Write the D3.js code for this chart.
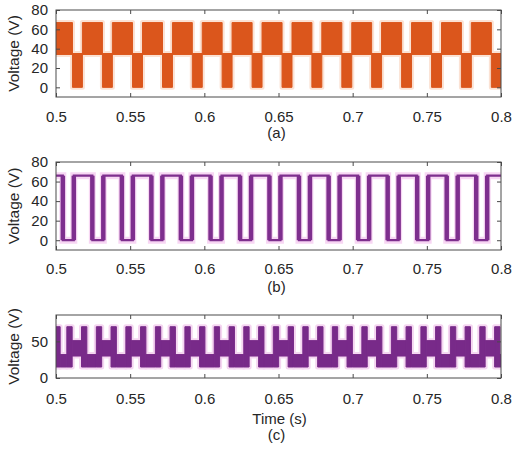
<!DOCTYPE html>
<html><head><meta charset="utf-8">
<script src="https://cdn.jsdelivr.net/npm/d3@7"></script>
<style>
body{margin:0;background:#fff;}
svg text{font-family:"Liberation Sans", Arial, sans-serif;fill:#262626;}
</style></head><body>
<svg id="chart" width="516" height="452"></svg>
<script>
// ---------- data ----------
const xTicks = [0.5, 0.55, 0.6, 0.65, 0.7, 0.75, 0.8];
const xTickLabels = ["0.5", "0.55", "0.6", "0.65", "0.7", "0.75", "0.8"];
const yTicksAB = [0, 20, 40, 60, 80];
const yTicksC = [0, 50];
const panelLabels = ["(a)", "(b)", "(c)"];
const yTitle = "Voltage (V)";
const xTitle = "Time (s)";

// (a) two-level PWM bands: low-band block start/end times
const aLowStart = [0.5111, 0.5313, 0.5516, 0.5718, 0.5919, 0.6120, 0.6322, 0.6524, 0.6725, 0.6927, 0.7128, 0.7330, 0.7532, 0.7733, 0.7935];
const aLowEnd   = [0.5178, 0.5380, 0.5583, 0.5785, 0.5986, 0.6187, 0.6389, 0.6591, 0.6792, 0.6994, 0.7195, 0.7397, 0.7599, 0.7800, 0.8000];
const aHighBand = [34, 67];
const aLowBand  = [0, 35];

// (b) square wave edges
const bFall = [0.5046, 0.5245, 0.5444, 0.5643, 0.5842, 0.6042, 0.6241, 0.6439, 0.6638, 0.6838, 0.7037, 0.7236, 0.7435, 0.7634, 0.7833];
const bRise = [0.5120, 0.5319, 0.5518, 0.5717, 0.5916, 0.6116, 0.6315, 0.6513, 0.6712, 0.6912, 0.7111, 0.7310, 0.7509, 0.7708, 0.7907];
const bHigh = 66;
const bLow = 0;

// (c) multilevel: pulse centre times, pulse band, band after each pulse
const cPulse = [0.5010, 0.5091, 0.5190, 0.5290, 0.5389, 0.5489, 0.5588, 0.5688, 0.5787, 0.5887, 0.5986, 0.6085, 0.6185, 0.6284, 0.6384, 0.6483, 0.6583, 0.6682, 0.6782, 0.6881, 0.6980, 0.7080, 0.7179, 0.7279, 0.7378, 0.7478, 0.7577, 0.7677, 0.7776, 0.7875, 0.7975];
const cPulseHalfWidth = 0.0018;
const cPulseBand = [15, 70];
const cGapTop    = [32, 51, 32, 51, 32, 51, 32, 51, 32, 51, 32, 51, 32, 51, 32, 51, 32, 51, 32, 51, 32, 51, 32, 51, 32, 51, 32, 51, 32, 51, 32];
const cGapBottom = [15, 30, 15, 30, 15, 30, 15, 30, 15, 30, 15, 30, 15, 30, 15, 30, 15, 30, 15, 30, 15, 30, 15, 30, 15, 30, 15, 30, 15, 30, 15];

// ---------- layout ----------
const svg = d3.select("#chart");
const X0 = 56, X1 = 501;
const panels = [
  {top: 10,  bottom: 97,  dom: [-10, 80], ticks: yTicksAB, lblPad: 14.5, tag: 134.5},
  {top: 162, bottom: 250, dom: [-10, 80], ticks: yTicksAB, lblPad: 13,   tag: 288},
  {top: 315, bottom: 378, dom: [0, 86],   ticks: yTicksC,  lblPad: 15,   tag: 436.5}
];
const x = d3.scaleLinear().domain([0.5, 0.8]).range([X0, X1]);
const colA = "#db561c", haloA = "#fbe2d4";
const colB = "#7e2f8e", haloB = "#f7d6f3";
const colC = "#782a89", haloC = "#f5d6f1";

panels.forEach((p, i) => {
  p.y = d3.scaleLinear().domain(p.dom).range([p.bottom, p.top]);
  svg.append("clipPath").attr("id", "clip" + i)
    .append("rect").attr("x", X0).attr("y", p.top).attr("width", X1 - X0).attr("height", p.bottom - p.top);
  p.g = svg.append("g").attr("clip-path", `url(#clip${i})`);
});

// ---------- (a) ----------
{
  const p = panels[0], y = p.y;
  const highBlocks = [];
  let prev = 0.5;
  aLowStart.forEach((s, i) => { highBlocks.push([prev, s]); prev = aLowEnd[i]; });
  if (prev < 0.8) highBlocks.push([prev, 0.8]);
  const lowBlocks = aLowStart.map((s, i) => [s, aLowEnd[i]]);
  const all = highBlocks.map(b => ({t0: b[0], t1: b[1], v: aHighBand}))
    .concat(lowBlocks.map(b => ({t0: b[0], t1: b[1], v: aLowBand})));
  [[haloA, 5], [colA, 1]].forEach(([c, w]) => {
    p.g.selectAll(null).data(all).enter().append("rect")
      .attr("x", d => x(d.t0)).attr("width", d => x(d.t1) - x(d.t0))
      .attr("y", d => y(d.v[1])).attr("height", d => y(d.v[0]) - y(d.v[1]))
      .attr("fill", c).attr("stroke", c).attr("stroke-width", w).attr("stroke-linejoin", "round");
  });
}

// ---------- (b) ----------
{
  const p = panels[1], y = p.y;
  const pts = [[0.5, bHigh]];
  bFall.forEach((f, i) => { pts.push([f, bLow]); pts.push([bRise[i], bHigh]); });
  pts.push([0.8, bHigh]);
  const line = d3.line().x(d => x(d[0])).y(d => y(d[1])).curve(d3.curveStepAfter);
  p.g.append("path").attr("d", line(pts)).attr("fill", "none").attr("stroke", haloB).attr("stroke-width", 7);
  p.g.append("path").attr("d", line(pts)).attr("fill", "none").attr("stroke", colB).attr("stroke-width", 2.2);
  const edges = bFall.concat(bRise);
  p.g.selectAll(null).data(edges).enter().append("line")
    .attr("x1", d => x(d)).attr("x2", d => x(d))
    .attr("y1", y(bLow)).attr("y2", y(bHigh))
    .attr("stroke", colB).attr("stroke-width", 4.5);
}

// ---------- (c) ----------
{
  const p = panels[2], y = p.y;
  const blocks = [];
  cPulse.forEach((c, i) => {
    blocks.push({t0: c - cPulseHalfWidth, t1: c + cPulseHalfWidth, v: cPulseBand});
    const g0 = c + cPulseHalfWidth;
    const g1 = i + 1 < cPulse.length ? cPulse[i + 1] - cPulseHalfWidth : 0.8;
    blocks.push({t0: g0, t1: g1, v: [cGapBottom[i], cGapTop[i]]});
  });
  [[haloC, 5], [colC, 1]].forEach(([c, w]) => {
    p.g.selectAll(null).data(blocks).enter().append("rect")
      .attr("x", d => x(d.t0)).attr("width", d => Math.max(0, x(d.t1) - x(d.t0)))
      .attr("y", d => y(d.v[1])).attr("height", d => y(d.v[0]) - y(d.v[1]))
      .attr("fill", c).attr("stroke", c).attr("stroke-width", w).attr("stroke-linejoin", "round");
  });
}

// ---------- axes ----------
panels.forEach((p, i) => {
  const y = p.y;
  const g = svg.append("g");
  const styleAxis = sel => {
    sel.select(".domain").remove();
    sel.selectAll("line").attr("stroke", "#4a4a4a");
    sel.selectAll("text").attr("font-size", 15).attr("fill", "#262626")
      .style("font-family", "'Liberation Sans', Arial, sans-serif");
  };
  g.append("g").attr("transform", `translate(0,${p.bottom})`)
    .call(d3.axisBottom(x).tickValues(xTicks).tickFormat((d, k) => xTickLabels[k]).tickSizeInner(-4).tickSizeOuter(0).tickPadding(p.lblPad))
    .call(styleAxis);
  g.append("g").attr("transform", `translate(0,${p.top})`)
    .call(d3.axisTop(x).tickValues(xTicks).tickFormat("").tickSizeInner(-4).tickSizeOuter(0))
    .call(styleAxis);
  g.append("g").attr("transform", `translate(${X0},0)`)
    .call(d3.axisLeft(y).tickValues(p.ticks).tickFormat(d3.format("d")).tickSizeInner(-4).tickSizeOuter(0).tickPadding(8))
    .call(styleAxis);
  g.append("g").attr("transform", `translate(${X1},0)`)
    .call(d3.axisRight(y).tickValues(p.ticks).tickFormat("").tickSizeInner(-4).tickSizeOuter(0))
    .call(styleAxis);
  svg.append("rect").attr("x", X0).attr("y", p.top).attr("width", X1 - X0).attr("height", p.bottom - p.top)
    .attr("fill", "none").attr("stroke", "#4a4a4a").attr("stroke-width", 1);
  svg.append("text").attr("transform", `translate(15,${(p.top + p.bottom) / 2}) rotate(-90)`)
    .attr("text-anchor", "middle").attr("dominant-baseline", "middle").attr("font-size", 15.5).text(yTitle);
  svg.append("text").attr("x", (X0 + X1) / 2 - 2).attr("y", p.tag)
    .attr("text-anchor", "middle").attr("dominant-baseline", "middle").attr("font-size", 15).text(panelLabels[i]);
});
svg.append("text").attr("x", (X0 + X1) / 2 + 1).attr("y", 420)
  .attr("text-anchor", "middle").attr("dominant-baseline", "middle").attr("font-size", 15).text(xTitle);
</script>
</body></html>
